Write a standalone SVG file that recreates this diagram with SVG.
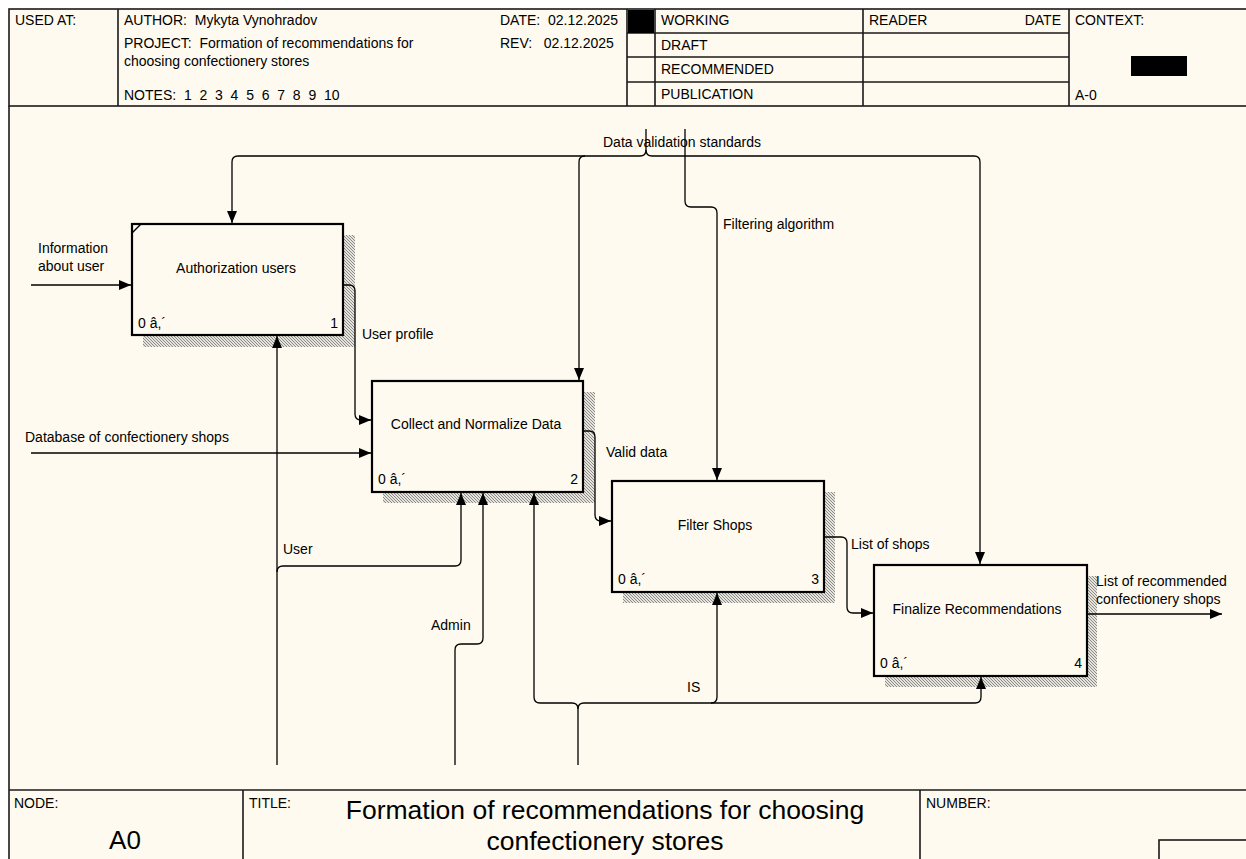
<svg xmlns="http://www.w3.org/2000/svg" width="1246" height="859" viewBox="0 0 1246 859">
<defs>
<pattern id="hatch" width="3" height="3" patternUnits="userSpaceOnUse">
<rect width="3" height="3" fill="#e6e3da"/>
<rect x="0" y="0" width="1" height="1" fill="#8a8a8a"/>
<rect x="1" y="1" width="1" height="1" fill="#8a8a8a"/>
<rect x="2" y="2" width="1" height="1" fill="#8a8a8a"/>
</pattern>
<marker id="ah" markerWidth="12" markerHeight="10" refX="12" refY="5" orient="auto" markerUnits="userSpaceOnUse">
<path d="M0,0 L12,5 L0,10 z" fill="#000"/>
</marker>
</defs>
<style>
text{font-family:"Liberation Sans",Arial,sans-serif;font-size:14px;fill:#000}
.frame{fill:none;stroke:#1a1a1a;stroke-width:1.6}
.box{fill:#fffaef;stroke:#000;stroke-width:2.2}
.shadow{fill:url(#hatch)}
.conn{fill:none;stroke:#000;stroke-width:1.3}
.arr{marker-end:url(#ah)}
.mid{text-anchor:middle}
.end{text-anchor:end}
.big{font-size:26.5px}
</style>
<rect x="0" y="0" width="1246" height="859" fill="#ffffff"/>
<rect x="9" y="9" width="1250" height="860" fill="#fffaef"/>

<g id="header">
<rect class="frame" x="9" y="9" width="1250" height="97"/>
<line class="frame" x1="118" y1="9" x2="118" y2="106"/>
<line class="frame" x1="627" y1="9" x2="627" y2="106"/>
<line class="frame" x1="655" y1="9" x2="655" y2="106"/>
<line class="frame" x1="863" y1="9" x2="863" y2="106"/>
<line class="frame" x1="1069" y1="9" x2="1069" y2="106"/>
<line class="frame" x1="627" y1="33" x2="1069" y2="33"/>
<line class="frame" x1="627" y1="57" x2="1069" y2="57"/>
<line class="frame" x1="627" y1="82" x2="1069" y2="82"/>
<rect x="628" y="10" width="26" height="23" fill="#000"/>
<rect x="1131" y="56" width="56" height="20" fill="#000"/>
<text x="15" y="25">USED AT:</text>
<text x="124" y="25" xml:space="preserve">AUTHOR:  Mykyta Vynohradov</text>
<text x="500" y="25" xml:space="preserve">DATE:  02.12.2025</text>
<text x="124" y="48" xml:space="preserve">PROJECT:  Formation of recommendations for</text>
<text x="124" y="66">choosing confectionery stores</text>
<text x="500" y="48" xml:space="preserve">REV:   02.12.2025</text>
<text x="124" y="100" xml:space="preserve">NOTES:  1  2  3  4  5  6  7  8  9  10</text>
<text x="661" y="25">WORKING</text>
<text x="661" y="50">DRAFT</text>
<text x="661" y="74">RECOMMENDED</text>
<text x="661" y="99">PUBLICATION</text>
<text x="869" y="25">READER</text>
<text x="1061" y="25" class="end">DATE</text>
<text x="1075" y="25">CONTEXT:</text>
<text x="1075" y="100">A-0</text>
</g>

<g id="footer">
<line class="frame" x1="9" y1="106" x2="9" y2="859"/>
<line class="frame" x1="9" y1="790" x2="1250" y2="790"/>
<line class="frame" x1="243" y1="790" x2="243" y2="859"/>
<line class="frame" x1="920" y1="790" x2="920" y2="859"/>
<rect class="frame" x="1159" y="840" width="95" height="30"/>
<text x="14" y="808">NODE:</text>
<text x="249" y="808">TITLE:</text>
<text x="926" y="808">NUMBER:</text>
<text x="125" y="849" class="mid" style="font-size:26px">A0</text>
<text x="605" y="819" class="mid big">Formation of recommendations for choosing</text>
<text x="605" y="850" class="mid big">confectionery stores</text>
</g>

<g id="node1">
<rect class="shadow" x="143" y="235" width="212" height="112"/>
<rect class="box" x="132" y="224" width="211" height="111"/>
<line x1="132" y1="233" x2="141" y2="224" stroke="#000" stroke-width="1.5"/>
<text x="236" y="273" class="mid">Authorization users</text>
<text x="138" y="328">0 â,´</text>
<text x="338" y="328" class="end">1</text>
</g>

<g id="node2">
<rect class="shadow" x="383" y="392" width="212" height="111"/>
<rect class="box" x="372" y="381" width="211" height="111"/>
<text x="476" y="429" class="mid">Collect and Normalize Data</text>
<text x="378" y="484">0 â,´</text>
<text x="578" y="484" class="end">2</text>
</g>

<g id="node3">
<rect class="shadow" x="623" y="492" width="212" height="111"/>
<rect class="box" x="612" y="481" width="212" height="111"/>
<text x="715" y="530" class="mid">Filter Shops</text>
<text x="618" y="584">0 â,´</text>
<text x="819" y="584" class="end">3</text>
</g>

<g id="node4">
<rect class="shadow" x="885" y="576" width="212" height="111"/>
<rect class="box" x="874" y="565" width="213" height="111"/>
<text x="977" y="614" class="mid">Finalize Recommendations</text>
<text x="880" y="668">0 â,´</text>
<text x="1082" y="668" class="end">4</text>
</g>

<g id="connectors">
<path class="conn arr" d="M31,285 H131"/>
<text x="38" y="253">Information</text>
<text x="38" y="271">about user</text>

<path class="conn arr" d="M31,453 H371"/>
<text x="25" y="442">Database of confectionery shops</text>

<path class="conn arr" d="M343,285 H349 Q355,285 355,291 V414 Q355,420 361,420 H371"/>
<text x="362" y="339">User profile</text>

<path class="conn arr" d="M583,431 H589 Q595,431 595,437 V515 Q595,521 601,521 H611"/>
<text x="606" y="457">Valid data</text>

<path class="conn arr" d="M824,537 H841 Q847,537 847,543 V607 Q847,613 853,613 H873"/>
<text x="851" y="549">List of shops</text>

<path class="conn arr" d="M1087,614 H1222"/>
<text x="1096" y="586">List of recommended</text>
<text x="1096" y="604">confectionery shops</text>

<text x="603" y="147">Data validation standards</text>
<path class="conn arr" d="M646,129 V150 Q646,156 640,156 H238 Q232,156 232,162 V223"/>
<path class="conn arr" d="M646,150 Q646,156 652,156 H974 Q980,156 980,162 V564"/>
<path class="conn arr" d="M585,156 Q579,156 579,162 V380"/>

<path class="conn arr" d="M685,129 V201 Q685,207 691,207 H711 Q717,207 717,213 V480"/>
<text x="723" y="229">Filtering algorithm</text>

<path class="conn arr" d="M277,765 V336"/>
<path class="conn arr" d="M277,572 Q277,566 283,566 H455 Q461,566 461,560 V493"/>
<text x="283" y="554">User</text>

<path class="conn arr" d="M455,765 V650 Q455,644 461,644 H477 Q483,644 483,638 V493"/>
<text x="431" y="630">Admin</text>

<path class="conn arr" d="M578,765 V709 Q578,703 572,703 H540 Q534,703 534,697 V493"/>
<path class="conn arr" d="M578,709 Q578,703 584,703 H975 Q981,703 981,697 V677"/>
<path class="conn arr" d="M711,703 Q717,703 717,697 V593"/>
<text x="687" y="692">IS</text>
</g>
</svg>
